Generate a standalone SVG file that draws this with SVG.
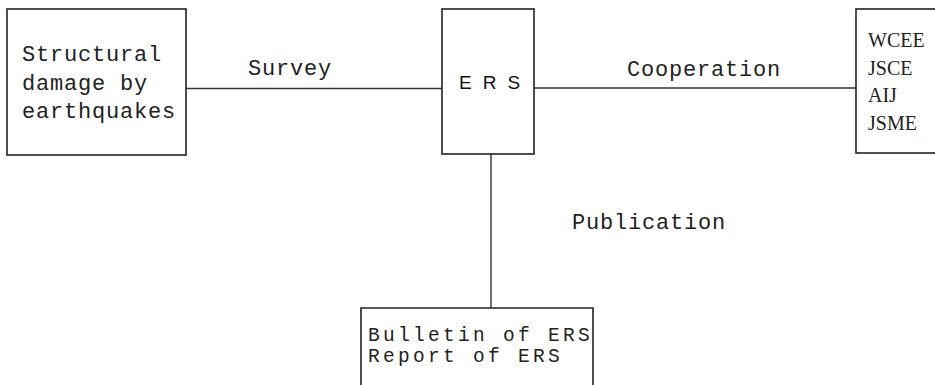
<svg xmlns="http://www.w3.org/2000/svg" width="935" height="385" viewBox="0 0 935 385">
<style>
.box{fill:none;stroke:#222;stroke-width:1.6}
.conn{stroke:#333;stroke-width:1.4;fill:none}
.mono{font-family:"Liberation Mono","DejaVu Sans Mono",monospace;font-size:22px;fill:#222;letter-spacing:0.8px}
.small{font-size:19.5px;letter-spacing:3.3px}
.serif{font-family:"Liberation Serif","Times New Roman",serif;font-size:20px;fill:#222}
.sans{font-family:"Liberation Sans",Arial,sans-serif;font-size:19px;fill:#111;letter-spacing:11px}
</style>
<rect width="935" height="385" fill="#fff"/>
<g id="connectors">
<line class="conn" x1="186" y1="88.5" x2="442" y2="88.5"/>
<line class="conn" x1="534" y1="88" x2="856" y2="88"/>
<line class="conn" x1="491" y1="154" x2="491" y2="308"/>
<text class="mono" x="248" y="75">Survey</text>
<text class="mono" x="627" y="76">Cooperation</text>
<text class="mono" x="572" y="229">Publication</text>
</g>
<g id="damage">
<rect class="box" x="7" y="9" width="179" height="146"/>
<text class="mono" x="22" y="61">Structural</text>
<text class="mono" x="22" y="90">damage by</text>
<text class="mono" x="22" y="118">earthquakes</text>
</g>
<g id="ers">
<rect class="box" x="442" y="9" width="92" height="145"/>
<text class="sans" x="459" y="89">ERS</text>
</g>
<g id="societies">
<rect class="box" x="856" y="9" width="90" height="144"/>
<text class="serif" x="868" y="47">WCEE</text>
<text class="serif" x="868" y="75">JSCE</text>
<text class="serif" x="868" y="102">AIJ</text>
<text class="serif" x="868" y="130">JSME</text>
</g>
<g id="publications">
<path class="box" d="M361,390 V308 H593 V390"/>
<text class="mono small" x="368" y="341">Bulletin of ERS</text>
<text class="mono small" x="368" y="362">Report of ERS</text>
</g>
</svg>
